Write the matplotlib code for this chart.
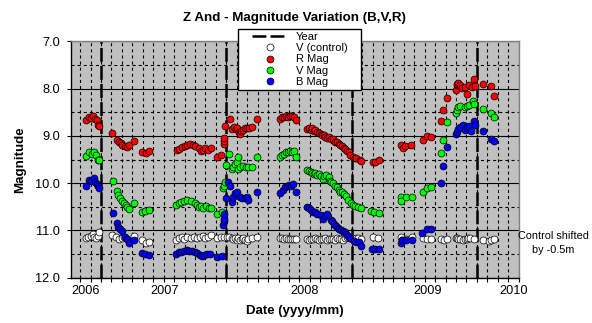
import matplotlib
matplotlib.use("Agg")
import matplotlib.pyplot as plt
from matplotlib.lines import Line2D
from matplotlib.patches import Rectangle

plt.rcParams['font.family'] = ['Liberation Sans', 'DejaVu Sans']
plt.rcParams['lines.scale_dashes'] = False

# x values: months after the first "Year" marker (mid-May 2006)
year_marks = [0, 12, 24, 36]
year_labels = ['2006', '2007', '2008', '2009', '2010']
year_label_pos = [-1.46, 6.08, 19.46, 31.31, 39.56]

r_t = [-1.47, -1.15, -0.93, -0.73, -0.61, -0.41, -0.29, -0.16,
       1.09, 1.53, 1.69, 1.88, 2.04, 2.27, 2.52, 2.68, 3.16, 3.89, 4.28, 4.57,
       7.25, 7.50, 7.76, 8.01, 8.27, 8.52, 8.78, 9.04, 9.42, 9.58, 9.74, 10.00, 10.25, 10.50, 11.14, 11.53,
       11.75, 11.78, 11.81, 11.91, 12.32, 12.55, 12.71, 12.90, 13.06, 13.19, 13.31, 13.44, 13.63, 13.83, 14.02, 14.21, 14.43, 14.91,
       17.15, 17.34, 17.53, 17.72, 17.91, 18.10, 18.30, 18.49, 18.68,
       19.73, 19.89, 20.08, 20.21, 20.37, 20.53, 20.72, 20.85, 21.04, 21.17, 21.36, 21.49, 21.68, 21.87, 22.06, 22.25,
       22.45, 22.64, 22.77, 22.93, 23.08, 23.24, 23.40, 23.56, 23.72, 23.88, 24.11, 24.30, 24.43, 24.81, 24.94,
       26.02, 26.21, 26.60,
       28.70, 28.90, 29.15, 29.73, 30.81, 31.26, 31.57,
       32.54, 32.79, 33.11, 34.00, 34.07, 34.13, 34.23, 34.39, 34.61, 34.87, 35.03, 35.28, 35.50, 35.73, 35.82, 36.56, 37.33, 37.64]
r_mag = [8.66, 8.60, 8.63, 8.59, 8.64, 8.66, 8.76, 8.79,
         8.93, 9.09, 9.14, 9.16, 9.19, 9.21, 9.23, 9.20, 9.10, 9.35, 9.36, 9.31,
         9.30, 9.28, 9.24, 9.21, 9.19, 9.17, 9.20, 9.21, 9.26, 9.32, 9.29, 9.26, 9.29, 9.26, 9.45, 9.41,
         9.17, 9.11, 9.04, 8.80, 8.65, 8.86, 8.82, 8.85, 8.83, 8.91, 8.97, 8.89, 8.88, 8.84, 8.83, 8.84, 8.81, 8.65,
         8.65, 8.61, 8.60, 8.58, 8.61, 8.59, 8.58, 8.60, 8.67,
         8.86, 8.84, 8.87, 8.83, 8.89, 8.88, 8.92, 8.95, 8.96, 8.99, 8.98, 9.02, 9.04, 9.02, 9.07, 9.07,
         9.12, 9.14, 9.18, 9.19, 9.21, 9.25, 9.28, 9.31, 9.35, 9.40, 9.44, 9.46, 9.47, 9.51, 9.53,
         9.56, 9.56, 9.51,
         9.19, 9.25, 9.21, 9.19, 9.09, 9.00, 9.02,
         8.68, 8.46, 8.19, 8.03, 7.93, 7.90, 7.89, 7.92, 7.98, 7.97, 8.12, 7.92, 7.96, 7.80, 7.95, 7.90, 7.94, 8.15]

v_t = [-1.40, -1.12, -0.86, -0.67, -0.48, -0.32, -0.16,
       1.12, 1.53, 1.63, 1.85, 2.04, 2.20, 2.36, 2.52, 2.68, 3.16, 3.93, 4.25, 4.57,
       7.18, 7.44, 7.70, 7.95, 8.27, 8.59, 8.97, 9.23, 9.42, 9.61, 9.80, 10.06, 10.31, 10.57, 11.14, 11.56,
       11.72, 11.78, 11.88, 11.97, 12.26, 12.52, 12.68, 12.84, 13.06, 13.09, 13.12, 13.31, 13.57, 13.86, 14.11, 14.43, 14.91,
       17.15, 17.34, 17.53, 17.72, 17.91, 18.10, 18.30, 18.49, 18.68,
       19.73, 19.89, 20.08, 20.21, 20.37, 20.53, 20.72, 20.85, 21.04, 21.23, 21.36, 21.55, 21.81, 21.93, 22.06,
       22.25, 22.45, 22.64, 22.77, 22.93, 23.08, 23.28, 23.47, 23.66, 23.91, 24.17, 24.36, 24.62, 24.94,
       25.89, 26.15, 26.60,
       28.77, 28.77, 29.21, 29.76, 30.81, 31.26, 31.58,
       32.54, 32.79, 33.11, 34.00, 34.07, 34.16, 34.39, 34.87, 35.03, 35.28, 35.66, 35.76, 36.56, 37.33, 37.64]
v_mag = [9.42, 9.34, 9.38, 9.35, 9.41, 9.50, 9.52,
         9.95, 10.16, 10.26, 10.31, 10.38, 10.41, 10.46, 10.51, 10.55, 10.41, 10.62, 10.59, 10.57,
         10.46, 10.42, 10.40, 10.37, 10.36, 10.37, 10.42, 10.46, 10.50, 10.48, 10.52, 10.49, 10.52, 10.52, 10.66, 10.60,
         10.11, 10.05, 9.98, 9.62, 9.38, 9.71, 9.65, 9.59, 9.55, 9.70, 9.45, 9.66, 9.63, 9.65, 9.66, 9.65, 9.44,
         9.44, 9.40, 9.38, 9.35, 9.35, 9.33, 9.35, 9.32, 9.45,
         9.72, 9.74, 9.76, 9.79, 9.81, 9.78, 9.83, 9.81, 9.84, 9.92, 9.84, 9.83, 9.88, 9.95, 9.98,
         9.99, 10.05, 10.09, 10.14, 10.18, 10.19, 10.22, 10.28, 10.35, 10.43, 10.46, 10.48, 10.50, 10.52,
         10.59, 10.62, 10.64,
         10.29, 10.37, 10.29, 10.29, 10.18, 10.10, 10.09,
         9.37, 9.09, 8.71, 8.51, 8.45, 8.40, 8.37, 8.38, 8.37, 8.34, 8.26, 8.33, 8.43, 8.52, 8.61]

b_t = [-1.44, -1.15, -0.93, -0.70, -0.54, -0.41, -0.29, -0.19,
       1.12, 1.53, 1.63, 1.85, 2.04, 2.33, 2.52, 2.68, 3.13, 3.89, 4.25, 4.57,
       7.18, 7.44, 7.70, 7.95, 8.21, 8.46, 8.72, 8.97, 9.23, 9.48, 9.67, 9.87, 10.12, 10.44, 11.14, 11.56,
       11.72, 11.75, 11.78, 11.80, 11.97, 12.20, 12.36, 12.52, 12.68, 12.84, 13.00, 13.31, 13.54, 13.79, 13.95, 14.11, 14.91,
       17.18, 17.40, 17.59, 17.78, 17.98, 18.17, 18.36, 18.68,
       19.73, 19.96, 20.15, 20.34, 20.53, 20.72, 21.04, 21.23, 21.43, 21.62, 22.00, 22.13, 22.32, 22.51, 22.70,
       22.83, 23.02, 23.15, 23.34, 23.47, 23.66, 23.85, 24.23, 24.43, 24.75, 24.87,
       25.96, 26.21, 26.60,
       28.74, 28.80, 29.21, 29.76, 30.78, 31.23, 31.61,
       32.54, 32.79, 33.11, 34.00, 34.07, 34.23, 34.39, 34.71, 34.87, 35.03, 35.28, 35.41, 35.73, 35.82, 36.56, 37.33, 37.64]
b_mag = [10.07, 9.93, 9.95, 9.90, 9.97, 10.02, 10.06, 10.11,
         10.64, 10.84, 10.93, 10.97, 11.02, 11.14, 11.19, 11.27, 11.20, 11.47, 11.50, 11.52,
         11.50, 11.45, 11.46, 11.43, 11.41, 11.43, 11.43, 11.45, 11.48, 11.51, 11.55, 11.52, 11.50, 11.50, 11.57, 11.54,
         10.88, 10.81, 10.76, 10.65, 10.31, 9.97, 10.06, 10.39, 10.29, 10.20, 10.18, 10.29, 10.31, 10.32, 10.30, 10.36, 10.18,
         10.21, 10.14, 10.09, 10.07, 10.04, 10.06, 10.02, 10.19,
         10.50, 10.53, 10.57, 10.60, 10.62, 10.66, 10.67, 10.76, 10.70, 10.66, 10.79, 10.81, 10.87, 10.90, 10.95,
         10.98, 11.00, 11.01, 11.04, 11.08, 11.12, 11.16, 11.22, 11.24, 11.24, 11.32,
         11.40, 11.39, 11.40,
         11.27, 11.21, 11.21, 11.21, 11.06, 10.97, 10.97,
         10.00, 9.63, 9.24, 8.96, 8.91, 8.86, 8.82, 8.77, 8.88, 8.82, 8.79, 8.89, 8.68, 8.77, 8.89, 9.07, 9.10]

c_t = [-1.47, -1.21, -0.99, -0.80, -0.64, -0.45, -0.32, -0.19,
       1.10, 1.45, 1.75, 2.04, 2.23, 3.16, 3.90, 4.35, 4.60,
       7.15, 7.47, 7.73, 7.98, 8.27, 8.59, 8.91, 9.23, 9.48, 9.74, 10.00, 10.25, 10.50,
       11.14, 11.49, 11.78, 12.04, 12.29, 12.52, 12.68, 12.84, 13.00, 13.15, 13.31, 13.47, 13.63, 13.79, 13.95, 14.11, 14.43, 14.91,
       17.15, 17.34, 17.53, 17.72, 17.91, 18.10, 18.30, 18.49, 18.68,
       19.73, 19.96, 20.15, 20.34, 20.53, 20.72, 20.91, 21.10, 21.30, 21.49, 21.68, 21.87, 22.06, 22.25,
       22.45, 22.64, 22.83, 23.02, 23.21, 23.40, 23.60, 23.85, 24.04, 24.23, 24.43, 24.62, 24.87,
       26.08, 26.56,
       28.74, 28.83, 29.21, 29.76, 30.81, 31.26, 31.61,
       32.54, 32.85, 33.11, 34.00, 34.07, 34.23, 34.39, 34.71, 34.87, 35.03, 35.19, 35.35, 35.76, 36.56, 37.20, 37.36, 37.62]
c_mag = [11.15, 11.13, 11.11, 11.08, 11.14, 11.17, 11.11, 11.04,
         11.10, 11.14, 11.18, 11.15, 11.14, 11.12, 11.20, 11.26, 11.24,
         11.20, 11.16, 11.14, 11.19, 11.14, 11.15, 11.14, 11.17, 11.14, 11.11, 11.15, 11.13, 11.10,
         11.16, 11.14, 11.14, 11.13, 11.14, 11.16, 11.19, 11.16, 11.20, 11.15, 11.20, 11.19, 11.17, 11.20, 11.22, 11.19, 11.16, 11.14,
         11.15, 11.17, 11.18, 11.17, 11.19, 11.18, 11.19, 11.18, 11.18,
         11.19, 11.20, 11.18, 11.19, 11.17, 11.19, 11.20, 11.18, 11.19, 11.17, 11.20, 11.18, 11.19, 11.18,
         11.20, 11.17, 11.19, 11.18, 11.20, 11.16, 11.14, 11.17, 11.15, 11.18, 11.16, 11.17, 11.19,
         11.14, 11.17,
         11.14, 11.20, 11.19, 11.14, 11.17, 11.19, 11.19,
         11.19, 11.20, 11.19, 11.15, 11.17, 11.18, 11.19, 11.20, 11.18, 11.19, 11.17, 11.17, 11.19, 11.21, 11.22, 11.20, 11.19]

W, H = 592, 323
fig = plt.figure(figsize=(W / 100, H / 100), dpi=100)
L, R, T, B = 70.5, 518.7, 41.3, 277.7
ax = fig.add_axes([L / W, 1 - B / H, (R - L) / W, (B - T) / H])
ax.set_facecolor('#C0C0C0')
ax.set_xlim(-2.92, 40)
ax.set_ylim(12, 7)

# grid
ax.set_yticks([7, 8, 9, 10, 11, 12])
ax.set_yticklabels(['7.0', '8.0', '9.0', '10.0', '11.0', '12.0'])
ax.set_yticks([7.5, 8.5, 9.5, 10.5, 11.5], minor=True)
ax.set_xticks(year_label_pos)
ax.set_xticklabels(year_labels)
ax.set_xticks(list(range(-2, 41)), minor=True)
ax.set_axisbelow(True)
dash = (0, (2.2, 2.2))
ax.grid(which='major', axis='y', color='black', lw=0.8, ls='-')
ax.grid(which='minor', axis='y', color='black', lw=0.8, ls=dash)
ax.grid(which='minor', axis='x', color='black', lw=0.8, ls=dash)
ax.grid(which='major', axis='x', visible=False)

ax.tick_params(axis='y', which='major', direction='out', length=3, width=0.8, pad=4.5, labelsize=9.2)
ax.tick_params(axis='y', which='minor', length=0)
ax.tick_params(axis='x', which='major', length=0, pad=5, labelsize=9.2)
ax.tick_params(axis='x', which='minor', direction='out', length=3, width=0.8)

for s in ['left', 'bottom']:
    ax.spines[s].set_color('black')
    ax.spines[s].set_linewidth(1)
for s in ['top', 'right']:
    ax.spines[s].set_color('#808080')
    ax.spines[s].set_linewidth(1)

# year markers
year_style = dict(color='black', lw=1.8, ls=(0, (10, 3)))
for ym in year_marks:
    ax.axvline(ym, zorder=1.5, **year_style)

mk = dict(ls='none', marker='o', ms=5.0, mec='black', mew=0.5)
ax.plot(c_t, c_mag, mfc='white', zorder=3, **mk)
ax.plot(r_t, r_mag, mfc='#FF0000', zorder=3, **mk)
ax.plot(v_t, v_mag, mfc='#00FF00', zorder=3, **mk)
ax.plot(b_t, b_mag, mfc='#0000FF', zorder=3, **mk)

ax.set_xlabel('Date (yyyy/mm)', fontsize=9.5, fontweight='bold', va='center')
ax.xaxis.set_label_coords(0.5, (B - 311) / (B - T))
ax.set_ylabel('Magnitude', fontsize=9.6, fontweight='bold', va='center')
ax.yaxis.set_label_coords((20.5 - L) / (R - L), 0.5)

fig.text(0.5 * (L + R) / W, 1 - 18 / H, 'Z And - Magnitude Variation (B,V,R)',
         ha='center', va='center', fontsize=9.6, fontweight='bold')

fig.text(553 / W, 1 - 243 / H, 'Control shifted\nby -0.5m', ha='center', va='center',
         fontsize=7.8, linespacing=1.5)

# legend
frame = Rectangle((238 / W, 1 - 90 / H), (361 - 238) / W, (90 - 29) / H,
                  transform=fig.transFigure, facecolor='white', edgecolor='black', lw=1, zorder=4)
fig.add_artist(frame)
handles = [Line2D([], [], **year_style),
           Line2D([], [], mfc='white', **mk),
           Line2D([], [], mfc='#FF0000', **mk),
           Line2D([], [], mfc='#00FF00', **mk),
           Line2D([], [], mfc='#0000FF', **mk)]
labels = ['Year', 'V (control)', 'R Mag', 'V Mag', 'B Mag']
leg = fig.legend(handles, labels, loc='upper left', bbox_to_anchor=(252 / W, 1 - 32 / H),
                 frameon=False, fontsize=8, labelspacing=0.11, handlelength=3.24,
                 handletextpad=0.72, borderpad=0, borderaxespad=0)
leg.set_zorder(5)

fig.savefig('out.png', dpi=100)
